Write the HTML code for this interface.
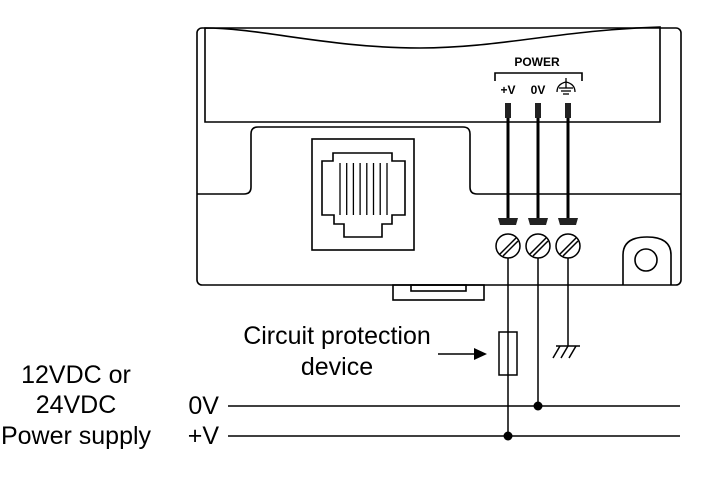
<!DOCTYPE html>
<html><head><meta charset="utf-8"><style>
html,body{margin:0;padding:0;background:#fff;}
svg{display:block}
text{font-family:"Liberation Sans",sans-serif;}
</style></head><body>
<svg width="703" height="491" viewBox="0 0 703 491" xmlns="http://www.w3.org/2000/svg">
<g fill="none" stroke="#000" stroke-width="1.6">
<rect x="197" y="28" width="484" height="257" rx="5"/>
<path d="M205 28 C 260 28, 330 48, 420 48 C 500 48, 560 30, 660 27 L660 122 L205 122 Z"/>
<path d="M197 194 L244 194 Q251 194 251 187 L251 134 Q251 127 258 127 L463 127 Q470 127 470 134 L470 187 Q470 194 477 194 L681 194"/>
<rect x="312" y="139" width="102" height="111"/>
<path d="M333 153 L392 153 L392 161 L405 161 L405 215 L392 215 L392 224 L382 224 L382 237 L344 237 L344 224 L334 224 L334 215 L322 215 L322 161 L333 161 Z"/>
<path d="M623 285 L623 255 Q623 237 647 237 Q671 237 671 255 L671 285"/>
<circle cx="646" cy="260" r="11"/>
<rect x="393" y="285" width="91" height="15"/>
<rect x="411" y="285" width="55" height="6"/>
<path d="M495 81 L495 73 L582 73 L582 81"/>
</g>
<g stroke="#000" stroke-width="1.3">
<line x1="340" y1="163" x2="340" y2="215"/><line x1="346.7" y1="163" x2="346.7" y2="215"/><line x1="353.4" y1="163" x2="353.4" y2="215"/><line x1="360.1" y1="163" x2="360.1" y2="215"/><line x1="366.8" y1="163" x2="366.8" y2="215"/><line x1="373.5" y1="163" x2="373.5" y2="215"/><line x1="380.2" y1="163" x2="380.2" y2="215"/><line x1="387" y1="163" x2="387" y2="215"/>
</g>
<g stroke="#000" stroke-width="1.3" fill="none">
<path d="M557 92 Q557 84 566 82 Q575 84 575 92"/>
<line x1="566" y1="78" x2="566" y2="88"/><line x1="559" y1="88" x2="573" y2="88"/><line x1="561" y1="91" x2="571" y2="91"/><line x1="563" y1="94" x2="569" y2="94"/>
</g>
<text x="537" y="66" font-size="12" font-weight="bold" text-anchor="middle">POWER</text>
<text x="508" y="94" font-size="12" font-weight="bold" text-anchor="middle">+V</text>
<text x="538" y="94" font-size="12" font-weight="bold" text-anchor="middle">0V</text>
<g fill="#222">
<rect x="505" y="103" width="6" height="15"/><rect x="535" y="103" width="6" height="15"/><rect x="565" y="103" width="6" height="15"/>
<path d="M498 218 L518 218 L516 225 L500 225 Z"/><path d="M528 218 L548 218 L546 225 L530 225 Z"/><path d="M558 218 L578 218 L576 225 L560 225 Z"/>
</g>
<g stroke="#000" stroke-width="3">
<line x1="508" y1="118" x2="508" y2="218"/><line x1="538" y1="118" x2="538" y2="218"/><line x1="568" y1="118" x2="568" y2="218"/>
</g>
<g stroke="#000" stroke-width="1.5" fill="#fff">
<circle cx="508" cy="246" r="12"/><circle cx="538" cy="246" r="12"/><circle cx="568" cy="246" r="12"/>
</g>
<g stroke="#000" stroke-width="1.5">
<line x1="500" y1="254" x2="516" y2="238"/><line x1="503" y1="256" x2="518" y2="241"/>
<line x1="530" y1="254" x2="546" y2="238"/><line x1="533" y1="256" x2="548" y2="241"/>
<line x1="560" y1="254" x2="576" y2="238"/><line x1="563" y1="256" x2="578" y2="241"/>
</g>
<g stroke="#000" stroke-width="1.5" fill="none">
<line x1="508" y1="258" x2="508" y2="436"/>
<line x1="538" y1="258" x2="538" y2="406"/>
<line x1="568" y1="258" x2="568" y2="346"/>
<line x1="556" y1="346" x2="580" y2="346"/>
<line x1="560" y1="346" x2="553" y2="358"/><line x1="568" y1="346" x2="561" y2="358"/><line x1="576" y1="346" x2="569" y2="358"/>
<rect x="499" y="332" width="18" height="43" fill="#fff"/>
<line x1="508" y1="332" x2="508" y2="375"/>
<line x1="228" y1="406" x2="680" y2="406"/>
<line x1="228" y1="436" x2="680" y2="436"/>
<line x1="438" y1="354" x2="476" y2="354"/>
</g>
<path d="M474 348 L487 354 L474 360 Z" fill="#000"/>
<circle cx="538" cy="406" r="4.5" fill="#000"/>
<circle cx="508" cy="436" r="4.5" fill="#000"/>
<g font-size="25" fill="#000">
<text x="337" y="344" text-anchor="middle">Circuit protection</text>
<text x="337" y="375" text-anchor="middle">device</text>
<text x="76" y="383" text-anchor="middle">12VDC or</text>
<text x="76" y="413" text-anchor="middle">24VDC</text>
<text x="76" y="444" text-anchor="middle">Power supply</text>
<text x="219" y="414" text-anchor="end">0V</text>
<text x="219" y="444" text-anchor="end">+V</text>
</g>
</svg>
</body></html>
